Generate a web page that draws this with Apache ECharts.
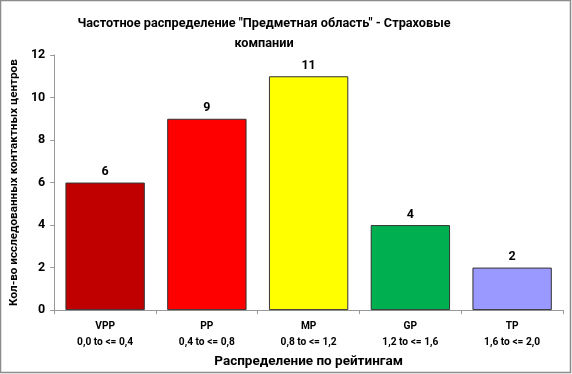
<!DOCTYPE html>
<html><head><meta charset="utf-8">
<script src="https://cdn.jsdelivr.net/npm/echarts@6/dist/echarts.min.js"></script>
<style>html,body{margin:0;padding:0;background:#fff}#c{width:572px;height:374px}</style>
</head><body><div id="c"></div>
<script>
const categories = ["VPP\n0,0 to <= 0,4","PP\n0,4 to <= 0,8","MP\n0,8 to <= 1,2","GP\n1,2 to <= 1,6","TP\n1,6 to <= 2,0"];
const values = [6, 9, 11, 4, 2];
const colors = ["#C00000","#FF0000","#FFFF00","#00B050","#9999FF"];
const yTicks = [0, 2, 4, 6, 8, 10, 12];
const FONT = "Roboto, 'Open Sans', sans-serif";
const chart = echarts.init(document.getElementById('c'), null, {renderer:'canvas'});
chart.setOption({
  animation:false,
  backgroundColor:'#fff',
  textStyle:{fontFamily:FONT},
  graphic:[{type:'rect', shape:{x:0.5, y:0.5, width:570, height:372}, style:{fill:'none', stroke:'#8c8c8c', lineWidth:1.5}, silent:true}],
  title:{
    text:'Частотное распределение "Предметная область" - Страховые\nкомпании',
    left:259, top:9, textAlign:'center',
    textStyle:{fontSize:12.7, fontWeight:'bold', color:'#000', lineHeight:20, fontFamily:FONT}
  },
  grid:{left:52, right:9, top:55, bottom:63, containLabel:false},
  xAxis:{
    type:'category', data:categories,
    name:'Распределение по рейтингам', nameLocation:'middle', nameGap:40,
    nameTextStyle:{fontSize:13.5, fontWeight:'bold', color:'#000', fontFamily:FONT},
    axisLine:{lineStyle:{color:'#999'}},
    axisTick:{show:true, length:4, lineStyle:{color:'#999'}},
    axisLabel:{fontSize:10.2, fontWeight:'bold', color:'#000', margin:8, lineHeight:16, fontFamily:FONT}
  },
  yAxis:{
    type:'value', min:0, max:12, interval:2,
    name:'Кол-во исследованных контактных центров', nameLocation:'middle', nameGap:32,
    nameTextStyle:{fontSize:11.7, fontWeight:'bold', color:'#000', fontFamily:FONT},
    axisLine:{show:true, lineStyle:{color:'#999'}},
    axisTick:{show:true, length:4, lineStyle:{color:'#999'}},
    splitLine:{show:false},
    axisLabel:{fontSize:12.5, fontWeight:'bold', color:'#000', margin:9, fontFamily:FONT,
      formatter:v=>yTicks.includes(v)?String(v):''}
  },
  series:[{
    type:'bar', barWidth:'78%',
    data:values.map((v,i)=>({value:v, itemStyle:{color:colors[i]}})),
    itemStyle:{borderColor:'#333', borderWidth:1},
    label:{show:true, position:'top', fontSize:12.5, fontWeight:'bold', color:'#000', distance:4, fontFamily:FONT}
  }]
});
</script></body></html>
